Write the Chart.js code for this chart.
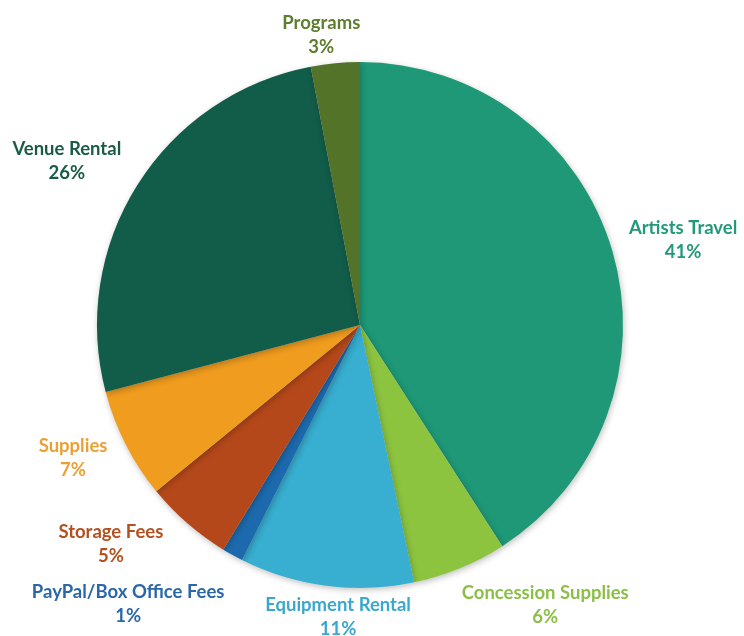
<!DOCTYPE html>
<html>
<head>
<meta charset="utf-8">
<script src="https://cdn.jsdelivr.net/npm/chart.js@4/dist/chart.umd.min.js"></script>
<style>
html,body{margin:0;padding:0;background:#fff;}
#wrap{width:744px;height:636px;}
</style>
</head>
<body>
<div id="wrap"><canvas id="c" width="744" height="636"></canvas></div>
<script>
const categories = ["Artists Travel","Concession Supplies","Equipment Rental","PayPal/Box Office Fees","Storage Fees","Supplies","Venue Rental","Programs"];
const shares = [40.9, 5.8, 10.7, 1.3, 5.4, 6.8, 26.1, 3.0];
const percentLabels = ["41%","6%","11%","1%","5%","7%","26%","3%"];
const sliceColors = ["#1e9877","#8cc43f","#38aed0","#1c6aad","#b5481a","#f09c1e","#125c4a","#527328"];
const labelColors = ["#23987a","#8bbf45","#3aa8cc","#2a67a8","#b5501f","#eba035","#1a5b47","#5e7d2e"];
// label anchor: angle (deg clockwise from top) and distance as a fraction of the pie radius
const labelAngles = [75.3, 146.5, 184.3, 219.7, 228.7, 245.1, 299.2, 352.4];
const labelDist = [1.27, 1.276, 1.113, 1.38, 1.261, 1.203, 1.277, 1.114];

const labelPlugin = {
  id: 'outLabels',
  afterDatasetsDraw(chart) {
    const ctx = chart.ctx;
    const arc = chart.getDatasetMeta(0).data[0];
    const cx = arc.x, cy = arc.y, r = arc.outerRadius;
    ctx.save();
    ctx.textAlign = 'center';
    ctx.textBaseline = 'middle';
    ctx.font = 'bold 18.5px Lato, "Open Sans", sans-serif';
    categories.forEach((name, i) => {
      const a = labelAngles[i] * Math.PI / 180;
      const d = labelDist[i] * r;
      const x = cx + d * Math.sin(a);
      const y = cy - d * Math.cos(a);
      ctx.fillStyle = labelColors[i];
      ctx.fillText(name, x, y - 12);
      ctx.fillText(percentLabels[i], x, y + 12);
    });
    ctx.restore();
  }
};

const shadowPlugin = {
  id: 'pieShadow',
  beforeDatasetsDraw(chart) {
    const ctx = chart.ctx;
    ctx.save();
    ctx.shadowColor = 'rgba(0,0,0,0.25)';
    ctx.shadowBlur = 6;
    ctx.shadowOffsetX = 1;
    ctx.shadowOffsetY = 2;
  },
  afterDatasetsDraw(chart) {
    chart.ctx.restore();
  }
};

new Chart(document.getElementById('c'), {
  type: 'pie',
  data: {
    labels: categories,
    datasets: [{
      data: shares,
      backgroundColor: sliceColors,
      borderWidth: 0
    }]
  },
  options: {
    responsive: false,
    animation: false,
    layout: { padding: { top: 62, bottom: 48, left: 97, right: 121 } },
    plugins: {
      legend: { display: false },
      tooltip: { enabled: false }
    }
  },
  plugins: [shadowPlugin, labelPlugin]
});
</script>
</body>
</html>
